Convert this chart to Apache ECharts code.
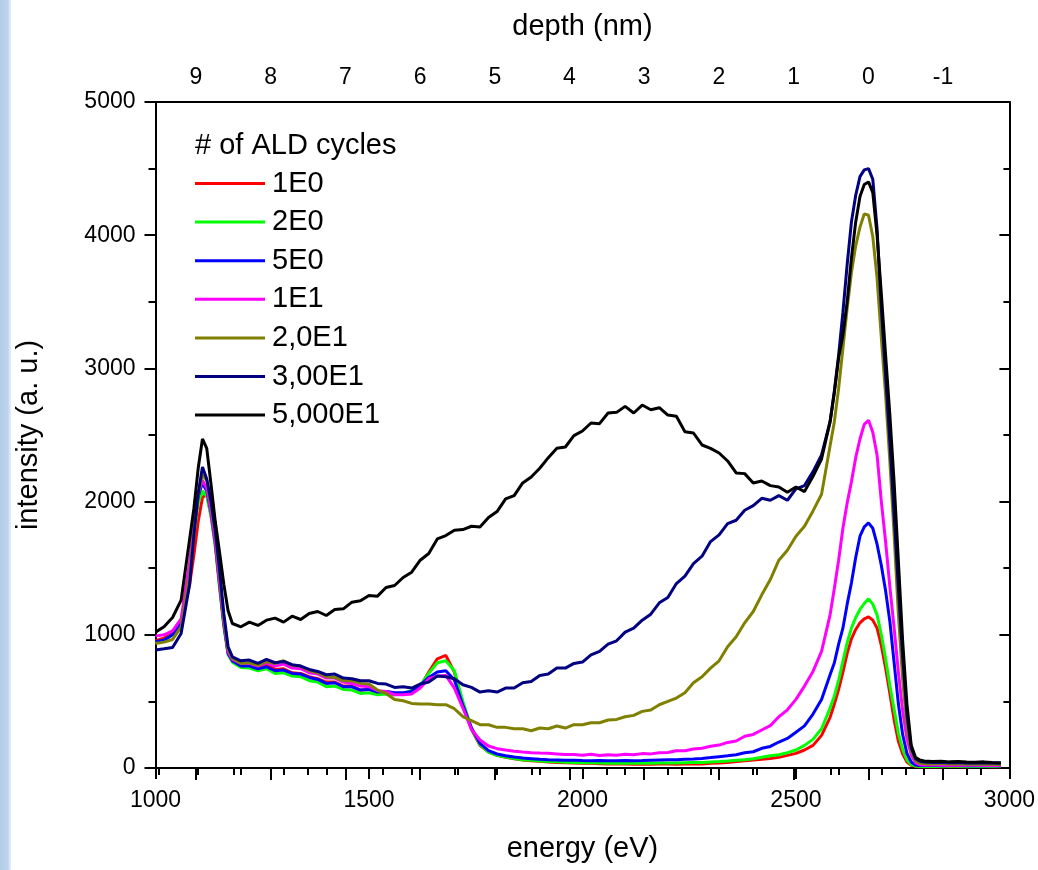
<!DOCTYPE html>
<html>
<head>
<meta charset="utf-8">
<script src="https://cdn.jsdelivr.net/npm/echarts@6/dist/echarts.min.js"></script>
<style>
html,body{margin:0;padding:0;background:#fff;}
#chart{width:1038px;height:870px;}
</style>
</head>
<body>
<div id="chart"></div>
<script>
// ---- data ----
const energy = [1000,1020,1040,1060,1080,
  1090,1100,1110,1120,1130,1140,1150,1160,1170,
  1180,1200,1220,1240,1260,1280,1300,1320,1340,1360,
  1380,1400,1420,1440,1460,1480,1500,1520,1540,1560,
  1580,1600,1620,1640,1660,1680,1700,1720,1740,1760,
  1780,1800,1820,1840,1860,1880,1900,1920,1940,1960,
  1980,2000,2020,2040,2060,2080,2100,2120,2140,2160,
  2180,2200,2220,2240,2260,2280,2300,2320,2340,2360,
  2380,2400,2420,2440,2460,2480,2500,2520,2540,2560,
  2580,
  2590,2600,2610,2620,2630,2640,2650,2660,2670,2680,2690,2700,2710,2720,2730,2740,2750,2760,2770,2780,2790,
  2800,2820,2840,2860,2880,2900,2920,2940,2960,2980];

const cyc1E0 = [955,975,1010,1090,1380,
  1600,1850,2030,2060,1900,1680,1380,1080,870,
  820,785,780,755,775,740,745,715,710,685,
  670,645,645,615,615,585,590,570,575,560,
  560,570,610,720,820,845,720,480,290,170,
  120,95,80,70,60,55,50,45,42,40,
  38,35,35,32,30,32,30,28,30,28,
  30,30,28,30,32,30,35,38,42,48,
  55,60,66,72,80,95,110,135,170,245,
  380,
  480,590,720,860,970,1040,1090,1120,1135,1110,1050,920,750,560,360,200,105,45,20,12,10,
  10,12,10,14,12,10,12,11,10,10];

const cyc2E0 = [940,960,1000,1080,1450,
  1750,1990,2080,2040,1890,1660,1350,1060,850,
  795,755,750,730,745,710,715,690,685,655,
  645,610,615,590,585,560,565,550,555,550,
  560,580,620,710,790,805,730,500,300,175,
  120,95,82,72,62,58,52,48,46,44,
  42,40,40,38,36,38,36,35,36,35,
  37,38,38,40,42,42,45,48,52,58,
  62,70,80,92,100,115,135,170,215,295,
  450,
  540,660,800,940,1050,1130,1190,1235,1270,1230,1150,1000,820,620,440,260,140,60,25,15,12,
  12,14,12,15,13,12,14,12,12,11];

const cyc5E0 = [950,960,1000,1090,1500,
  1800,2040,2140,2080,1920,1690,1380,1080,860,
  805,765,765,745,760,730,735,710,705,680,
  665,635,640,610,610,585,590,570,575,565,
  565,575,620,680,720,730,660,470,300,185,
  130,105,92,82,75,70,65,62,60,58,
  58,56,55,56,55,54,56,55,56,58,
  60,62,62,65,68,72,78,85,92,100,
  115,122,148,162,195,222,268,316,405,515,
  700,
  790,930,1050,1230,1390,1580,1740,1810,1840,1800,1680,1520,1330,1100,790,480,250,110,45,22,18,
  18,20,17,19,18,16,18,17,16,15];

const cyc1E1 = [990,1000,1030,1120,1550,
  1820,2060,2160,2100,1930,1700,1390,1090,870,
  815,785,785,765,790,765,780,750,745,715,
  705,675,675,645,635,615,610,580,575,550,
  550,555,600,670,690,695,600,450,290,210,
  165,145,135,126,120,115,112,110,106,102,
  102,95,103,94,100,95,103,100,108,106,
  115,116,130,130,143,148,163,172,192,203,
  238,252,285,318,385,437,515,615,725,875,
  1150,
  1350,1560,1800,1990,2150,2330,2470,2580,2610,2520,2350,2000,1700,1360,1050,720,430,220,100,40,25,
  22,24,20,22,21,20,22,19,20,18];

const cyc20E1 = [935,945,965,1060,1450,
  1780,2050,2200,2160,1980,1760,1450,1120,890,
  825,785,790,770,800,785,805,770,765,730,
  715,685,680,655,655,635,630,585,560,515,
  505,485,480,480,475,475,445,385,355,325,
  325,305,305,295,295,280,300,295,315,300,
  325,325,340,340,360,365,385,395,425,435,
  475,500,525,565,640,685,750,805,910,985,
  1090,1175,1300,1415,1560,1635,1740,1815,1930,2055,
  2420,
  2600,2850,3150,3450,3720,3920,4060,4160,4150,3990,3680,3230,2800,2300,1750,1150,660,320,130,55,35,
  32,30,33,30,31,28,30,29,28,27];

const cyc300E1 = [886,895,905,1010,1380,
  1750,2060,2260,2170,2000,1780,1490,1160,910,
  835,805,810,785,815,790,800,775,765,740,
  725,700,705,675,670,655,655,635,630,605,
  610,600,630,645,690,685,670,625,605,570,
  580,570,600,600,640,650,695,705,750,750,
  785,795,850,875,930,955,1020,1050,1110,1155,
  1240,1280,1385,1440,1535,1590,1700,1750,1835,1860,
  1935,1970,2025,2010,2045,2010,2095,2120,2225,2350,
  2600,
  2830,3100,3420,3780,4100,4300,4440,4490,4500,4420,4050,3450,2950,2450,1900,1350,830,400,150,70,50,
  45,42,44,40,42,38,40,38,37,36];

const cyc5000E1 = [1020,1060,1130,1260,1720,
  1950,2250,2470,2400,2130,1850,1620,1380,1180,
  1085,1060,1095,1070,1110,1125,1095,1140,1115,1160,
  1175,1145,1190,1195,1245,1255,1295,1290,1355,1370,
  1430,1470,1560,1610,1720,1745,1785,1790,1815,1810,
  1880,1925,2020,2045,2140,2185,2250,2330,2400,2410,
  2495,2530,2590,2585,2665,2670,2715,2665,2725,2690,
  2705,2650,2640,2525,2515,2425,2400,2365,2305,2215,
  2210,2140,2155,2120,2110,2070,2110,2075,2190,2320,
  2600,
  2820,3080,3250,3500,3830,4100,4290,4380,4400,4320,4000,3560,3100,2650,2140,1550,950,480,170,80,60,
  52,48,50,46,48,45,44,46,42,40];

const seriesNames = ['1E0','2E0','5E0','1E1','2,0E1','3,00E1','5,000E1'];
const seriesColors = ['#ff0000','#00ff00','#0000ff','#ff00ff','#808000','#000080','#000000'];
const seriesValues = [cyc1E0,cyc2E0,cyc5E0,cyc1E1,cyc20E1,cyc300E1,cyc5000E1];

const xTicksEnergy = {min:1000, max:3000, interval:500};
const yTicks = {min:0, max:5000, interval:1000};
const depthMajor = {min:-1, max:9, interval:1};
const depthMinor = {min:-1.5, max:9.5, interval:1};

// ---- chart ----
const FONT = '"Liberation Sans", Arial, Helvetica, sans-serif';
const BLK = '#000';
const plain = v => String(v);
const chart = echarts.init(document.getElementById('chart'), null, {renderer:'canvas'});

const option = {
  animation: false,
  backgroundColor: '#ffffff',
  textStyle: {fontFamily: FONT, color: BLK},
  graphic: [{
    type: 'rect', left: 0, top: 0, z: -10,
    shape: {x: 0, y: 0, width: 11, height: 870},
    style: {fill: new echarts.graphic.LinearGradient(0, 0, 1, 0, [
      {offset: 0, color: '#b3cde6'},
      {offset: 0.7, color: '#bcd4ec'},
      {offset: 1, color: '#e8f0f8'}
    ])}
  }],
  title: {
    text: '# of ALD cycles', left: 195, top: 131, padding: 0,
    textStyle: {fontSize: 29, fontWeight: 'normal', fontFamily: FONT, color: BLK}
  },
  legend: {
    orient: 'vertical', left: 195, top: 169, padding: 0,
    itemWidth: 70, itemHeight: 3, itemGap: 9.6, icon: 'rect',
    data: seriesNames,
    textStyle: {fontSize: 29, lineHeight: 29, fontFamily: FONT, color: BLK, padding: [0,0,0,2]}
  },
  grid: [
    {left: 155.5, right: 28, top: 102, bottom: 102},
    {left: 196, right: 95, top: 102, bottom: 102},
    {left: 158.65, right: 57.65, top: 102, bottom: 102}
  ],
  xAxis: [
    {
      gridIndex: 0, type: 'value', position: 'bottom',
      min: xTicksEnergy.min, max: xTicksEnergy.max, interval: xTicksEnergy.interval,
      axisLine: {show: true, onZero: false, lineStyle: {color: BLK, width: 2}},
      axisTick: {show: true, inside: false, length: 11, lineStyle: {color: BLK, width: 2}},
      minorTick: {show: true, splitNumber: 5, length: 7, lineStyle: {color: BLK, width: 2}},
      splitLine: {show: false},
      axisLabel: {fontSize: 23, color: BLK, fontFamily: FONT, margin: 21, formatter: plain},
      name: 'energy (eV)', nameLocation: 'middle', nameGap: 66,
      nameTextStyle: {fontSize: 29, color: BLK, fontFamily: FONT}
    },
    {
      gridIndex: 0, type: 'value', position: 'top',
      min: xTicksEnergy.min, max: xTicksEnergy.max,
      axisLine: {show: true, onZero: false, lineStyle: {color: BLK, width: 2}},
      axisTick: {show: false}, axisLabel: {show: false}, splitLine: {show: false},
      name: 'depth (nm)', nameLocation: 'middle', nameGap: 61,
      nameTextStyle: {fontSize: 29, color: BLK, fontFamily: FONT}
    },
    {
      gridIndex: 1, type: 'value', position: 'top', inverse: true,
      min: depthMajor.min, max: depthMajor.max, interval: depthMajor.interval,
      axisLine: {show: false},
      axisTick: {show: true, inside: true, length: 12, lineStyle: {color: BLK, width: 2}},
      splitLine: {show: false},
      axisLabel: {fontSize: 23, color: BLK, fontFamily: FONT, margin: 13, formatter: plain}
    },
    {
      gridIndex: 2, type: 'value', position: 'top', inverse: true,
      min: depthMinor.min, max: depthMinor.max, interval: depthMinor.interval,
      axisLine: {show: false},
      axisTick: {show: true, inside: true, length: 7, lineStyle: {color: BLK, width: 2}},
      splitLine: {show: false},
      axisLabel: {show: false}
    }
  ],
  yAxis: [
    {
      gridIndex: 0, type: 'value', position: 'left',
      min: yTicks.min, max: yTicks.max, interval: yTicks.interval,
      axisLine: {show: true, onZero: false, lineStyle: {color: BLK, width: 2}},
      axisTick: {show: true, inside: false, length: 11, lineStyle: {color: BLK, width: 2}},
      minorTick: {show: true, splitNumber: 2, length: 7, lineStyle: {color: BLK, width: 2}},
      splitLine: {show: false},
      axisLabel: {fontSize: 23, color: BLK, fontFamily: FONT, margin: 20, formatter: plain},
      name: 'intensity (a. u.)', nameLocation: 'middle', nameGap: 112, nameRotate: 90,
      nameTextStyle: {fontSize: 29, color: BLK, fontFamily: FONT}
    },
    {
      gridIndex: 0, type: 'value', position: 'right',
      min: yTicks.min, max: yTicks.max, interval: yTicks.interval,
      axisLine: {show: true, onZero: false, lineStyle: {color: BLK, width: 2}},
      axisTick: {show: true, inside: true, length: 10, lineStyle: {color: BLK, width: 2}},
      minorTick: {show: true, splitNumber: 2, length: 6, lineStyle: {color: BLK, width: 2}},
      splitLine: {show: false}, axisLabel: {show: false}
    },
    {gridIndex: 1, type: 'value', show: false, min: 0, max: 1},
    {gridIndex: 2, type: 'value', show: false, min: 0, max: 1}
  ],
  series: seriesNames.map((name, i) => ({
    name: name, type: 'line', xAxisIndex: 0, yAxisIndex: 0,
    showSymbol: false, symbol: 'none', smooth: false,
    data: energy.map((e, j) => [e, seriesValues[i][j]]),
    lineStyle: {color: seriesColors[i], width: 3},
    itemStyle: {color: seriesColors[i]},
    z: 2 + i
  }))
};
chart.setOption(option);
</script>
</body>
</html>
